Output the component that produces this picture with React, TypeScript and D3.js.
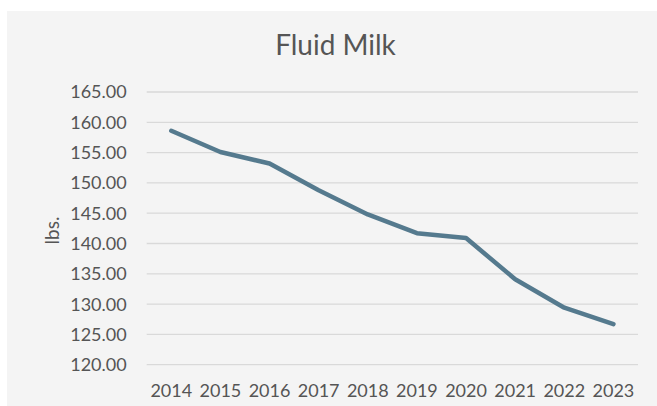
import React from "react";
import * as d3 from "d3";

const years = ["2014", "2015", "2016", "2017", "2018", "2019", "2020", "2021", "2022", "2023"];
const fluidMilk = [158.6, 155.1, 153.2, 148.8, 144.8, 141.7, 140.9, 134.1, 129.4, 126.7];
const yTicks = [120, 125, 130, 135, 140, 145, 150, 155, 160, 165];

const W = 657;
const H = 406;
const FONT = "Lato, 'Open Sans', sans-serif";
const TEXT = "#555555";

export default function App() {
  const x = d3.scaleBand<string>().domain(years).range([146.7, 638]).padding(0);
  const y = d3.scaleLinear().domain([120, 165]).range([364.7, 92]);
  const cx = (d: string) => (x(d) ?? 0) + x.bandwidth() / 2;

  const line = d3
    .line<number>()
    .x((_, i) => cx(years[i]))
    .y((v) => y(v));

  return (
    <div style={{ position: "fixed", left: 0, top: 0, width: W, height: H, background: "#fff" }}>
      <svg width={W} height={H} style={{ display: "block" }}>
        <rect x={7} y={11} width={W - 7} height={H - 11} fill="#f4f4f4" />
        <text
          x={335.5}
          y={55}
          textAnchor="middle"
          fontFamily={FONT}
          fontSize={28}
          fill={TEXT}
        >
          Fluid Milk
        </text>
        {yTicks.map((t) => (
          <g key={t}>
            <line x1={146.7} x2={638} y1={y(t)} y2={y(t)} stroke="#d9d9d9" strokeWidth={1.3} />
            <text
              x={126.7}
              y={y(t)}
              dy="0.36em"
              textAnchor="end"
              fontFamily={FONT}
              fontSize={18}
              fill={TEXT}
            >
              {t.toFixed(2)}
            </text>
          </g>
        ))}
        {years.map((yr) => (
          <text
            key={yr}
            x={cx(yr)}
            y={397}
            textAnchor="middle"
            fontFamily={FONT}
            fontSize={18}
            fill={TEXT}
          >
            {yr}
          </text>
        ))}
        <text
          transform="translate(59,230.5) rotate(-90)"
          textAnchor="middle"
          fontFamily={FONT}
          fontSize={19}
          fill={TEXT}
        >
          lbs.
        </text>
        <path
          d={line(fluidMilk) ?? ""}
          fill="none"
          stroke="#557a8e"
          strokeWidth={4.5}
          strokeLinecap="round"
          strokeLinejoin="round"
        />
      </svg>
    </div>
  );
}
